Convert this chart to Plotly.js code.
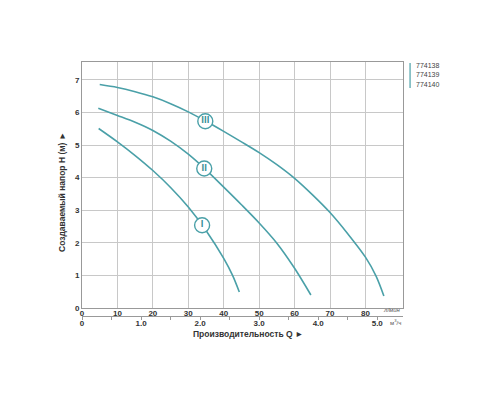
<!DOCTYPE html>
<html>
<head>
<meta charset="utf-8">
<script src="https://cdn.plot.ly/plotly-3.0.1.min.js"></script>
<style>
  html, body { margin: 0; padding: 0; background: #fff; }
  #chart { width: 500px; height: 400px; }
</style>
</head>
<body>
<div id="chart"></div>
<script>
// curve I (774138)
var q1 = [4.7, 10, 15, 20, 25, 30, 35, 40, 42.5, 44.4];
var h1 = [5.51, 5.10, 4.68, 4.22, 3.70, 3.10, 2.38, 1.52, 1.0, 0.49];
// curve II (774139)
var q2 = [4.6, 10, 15, 20, 25, 30, 35, 40, 45, 50, 55, 60, 64.6];
var h2 = [6.13, 5.91, 5.70, 5.45, 5.12, 4.72, 4.24, 3.71, 3.17, 2.61, 1.99, 1.22, 0.4];
// curve III (774140)
var q3 = [5, 10, 15, 20, 25, 30, 35, 40, 45, 50, 55, 60, 65, 70, 75, 80, 83, 85.2];
var h3 = [6.86, 6.77, 6.64, 6.48, 6.27, 6.02, 5.73, 5.42, 5.10, 4.77, 4.40, 3.98, 3.48, 2.93, 2.28, 1.56, 0.98, 0.37];

// roman labels on the curves
var labelNames = ["I", "II", "III"];
var labelQ = [33.9, 34.5, 34.8];
var labelH = [2.54, 4.28, 5.73];

var models = ["774138", "774139", "774140"];
var lpmTicks = [0, 10, 20, 30, 40, 50, 60, 70, 80];
var m3hTicks = [0, 1, 2, 3, 4, 5];
var m3hText = ["0", "1.0", "2.0", "3.0", "4.0", "5.0"];
var hTicks = [0, 1, 2, 3, 4, 5, 6, 7];

var teal = "#4aa0a8";
var fontName = "Liberation Sans, Arial, sans-serif";
var tickFont = {family: fontName, size: 8, color: "#333", weight: "bold"};

function curve(q, h) {
  return {
    x: q, y: h, type: "scatter", mode: "lines",
    line: {color: teal, width: 1.6, shape: "spline", smoothing: 0.9},
    hoverinfo: "skip", showlegend: false
  };
}

var data = [
  curve(q1, h1),
  curve(q2, h2),
  curve(q3, h3),
  {
    x: labelQ, y: labelH, text: labelNames,
    type: "scatter", mode: "markers+text", textposition: "middle center",
    marker: {size: 15, color: "#fff", line: {color: teal, width: 1.4}},
    textfont: {family: "DejaVu Sans Condensed, DejaVu Sans", size: 8, color: "#3a8f97", weight: "bold"},
    showlegend: false, hoverinfo: "skip"
  },
  // invisible trace so the m3/h axis is drawn
  {x: [0], y: [0], xaxis: "x2", yaxis: "y", type: "scatter", mode: "markers",
   marker: {opacity: 0}, showlegend: false, hoverinfo: "skip"}
];

var annotations = [
  {xref: "paper", yref: "paper", x: 0.518, y: -0.072, xanchor: "center", yanchor: "middle",
   text: "Производительность Q ►", showarrow: false,
   font: {family: fontName, size: 8.5, color: "#333", weight: "bold"}},
  {xref: "paper", yref: "paper", x: -0.064, y: 0.49, xanchor: "center", yanchor: "middle",
   text: "Создаваемый напор H (м) ►", textangle: -90, showarrow: false,
   font: {family: fontName, size: 8.5, color: "#333", weight: "bold"}},
  {xref: "paper", yref: "paper", x: 1.0, y: 0.023, xanchor: "right", yanchor: "middle",
   text: "<i>л/мин</i>", showarrow: false, font: {family: fontName, size: 6, color: "#555"}},
  {xref: "paper", yref: "paper", x: 1.0, y: -0.024, xanchor: "right", yanchor: "middle",
   text: "м<sup>3</sup>/ч", showarrow: false, font: {family: fontName, size: 6, color: "#555"}}
];
for (var i = 0; i < models.length; i++) {
  annotations.push({
    xref: "paper", yref: "paper", x: 1.033, y: 0.985 - i * 0.036,
    xanchor: "left", yanchor: "middle", text: models[i], showarrow: false,
    font: {family: fontName, size: 7, color: "#444"}
  });
}

var layout = {
  width: 500, height: 400,
  margin: {l: 81.5, r: 97, t: 62, b: 84},
  paper_bgcolor: "#fff", plot_bgcolor: "#fff",
  xaxis: {
    range: [0, 90.6], tickvals: lpmTicks, anchor: "y",
    showgrid: true, gridcolor: "#c8c8c8", gridwidth: 1,
    showline: true, linecolor: "#999", linewidth: 1, mirror: true,
    zeroline: false, ticks: "", tickfont: tickFont, ticklabelstandoff: -3
  },
  xaxis2: {
    range: [0, 5.436], overlaying: "x", anchor: "free", position: 0, side: "bottom",
    tickvals: m3hTicks, ticktext: m3hText, showgrid: false, zeroline: false,
    showline: true, linecolor: "#999", linewidth: 1,
    ticks: "outside", ticklen: 2, tickcolor: "#999",
    minor: {dtick: 0.5, ticks: "outside", ticklen: 3, tickcolor: "#999"},
    tickfont: tickFont, ticklabelstandoff: -3
  },
  yaxis: {
    range: [0, 7.55], domain: [0.0315, 1], tickvals: hTicks,
    showgrid: true, gridcolor: "#c8c8c8", gridwidth: 1,
    showline: true, linecolor: "#999", linewidth: 1, mirror: true,
    zeroline: false, ticks: "", tickfont: tickFont
  },
  shapes: [
    {type: "line", xref: "paper", yref: "paper", x0: 1.022, x1: 1.022, y0: 0.898, y1: 0.996,
     line: {color: teal, width: 1.2}}
  ],
  annotations: annotations
};

Plotly.newPlot("chart", data, layout, {displayModeBar: false, staticPlot: true});
</script>
</body>
</html>
